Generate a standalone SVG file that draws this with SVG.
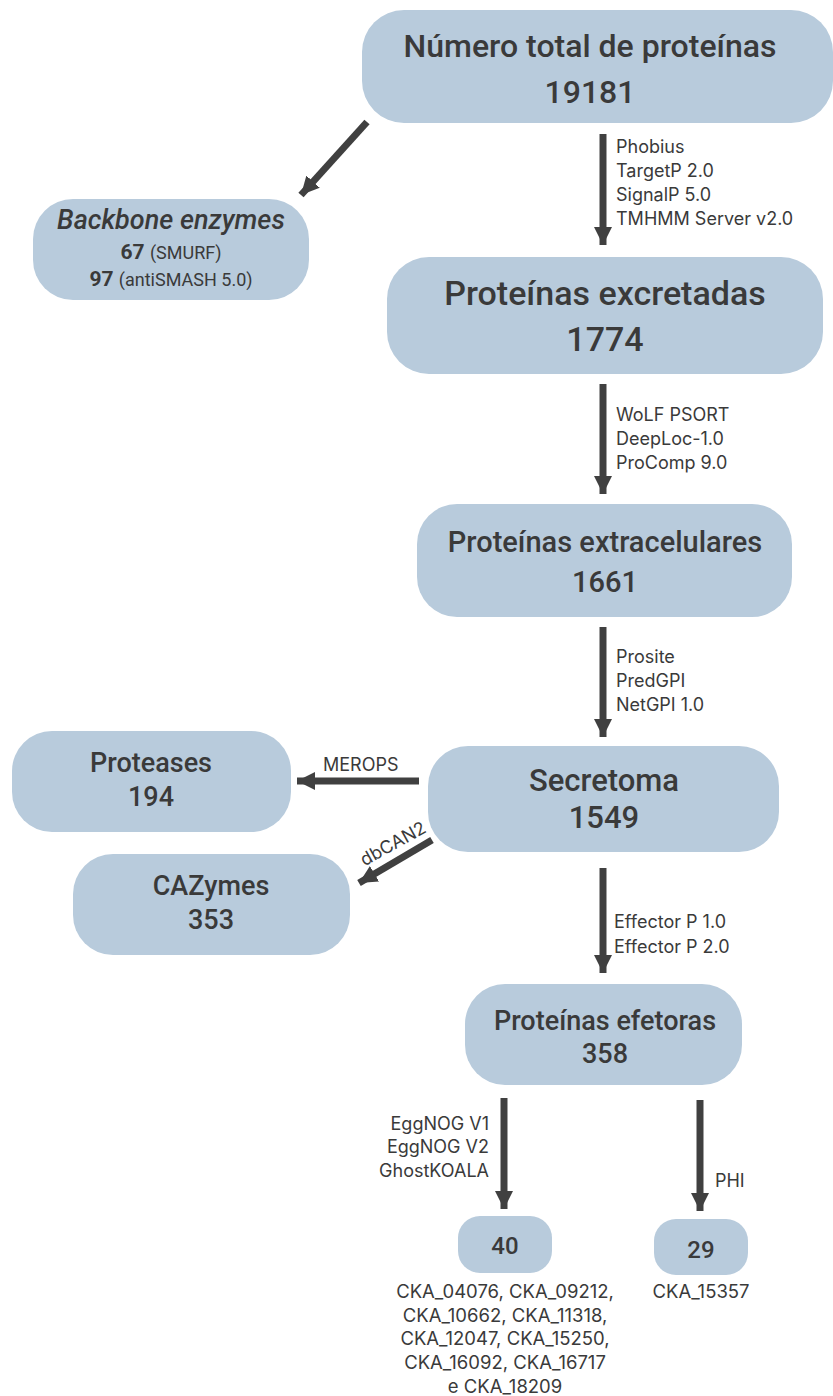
<svg xmlns="http://www.w3.org/2000/svg" width="833" height="1396" viewBox="0 0 833 1396">
<defs>
<style>
.node{fill:#b8cbdc;}
.t{font-family:Roboto,"Liberation Sans",sans-serif;font-weight:500;fill:#3a3a3a;text-anchor:middle;}
.lbl{font-family:Inter,"Open Sans",sans-serif;font-size:18px;fill:#3a3a3a;}
.ck{font-family:Inter,"Open Sans",sans-serif;font-size:18.5px;fill:#3a3a3a;text-anchor:middle;}
.arr{stroke:#404040;stroke-width:7;fill:none;}
</style>
<marker id="ah" markerUnits="userSpaceOnUse" markerWidth="20" markerHeight="20" viewBox="0 0 20 20" refX="18" refY="10" orient="auto">
<path d="M0,1 L18,10 L0,19 Z" fill="#404040"/>
</marker>
</defs>
<rect width="833" height="1396" fill="#ffffff"/>
<g id="connectors">
<line class="arr" x1="367" y1="122" x2="301" y2="195" marker-end="url(#ah)"/>
<line class="arr" x1="603" y1="134" x2="603" y2="245" marker-end="url(#ah)"/>
<line class="arr" x1="603" y1="384" x2="603" y2="494" marker-end="url(#ah)"/>
<line class="arr" x1="603" y1="627" x2="603" y2="737" marker-end="url(#ah)"/>
<line class="arr" x1="419" y1="781" x2="297" y2="781" marker-end="url(#ah)"/>
<line class="arr" x1="432" y1="840" x2="359" y2="883" marker-end="url(#ah)"/>
<line class="arr" x1="603" y1="868" x2="603" y2="973" marker-end="url(#ah)"/>
<line class="arr" x1="504" y1="1098" x2="504" y2="1209" marker-end="url(#ah)"/>
<line class="arr" x1="700" y1="1100" x2="700" y2="1211" marker-end="url(#ah)"/>
<text class="lbl" x="616" y="153">Phobius</text>
<text class="lbl" x="616" y="177">TargetP 2.0</text>
<text class="lbl" x="616" y="201">SignalP 5.0</text>
<text class="lbl" x="616" y="225">TMHMM Server v2.0</text>
<text class="lbl" x="616" y="421">WoLF PSORT</text>
<text class="lbl" x="616" y="445">DeepLoc-1.0</text>
<text class="lbl" x="616" y="469">ProComp 9.0</text>
<text class="lbl" x="616" y="663">Prosite</text>
<text class="lbl" x="616" y="687">PredGPI</text>
<text class="lbl" x="616" y="711">NetGPI 1.0</text>
<text class="lbl" x="323" y="771">MEROPS</text>
<text class="lbl" x="0" y="0" text-anchor="middle" transform="translate(396,849) rotate(-29)">dbCAN2</text>
<text class="lbl" x="614" y="928">Effector P 1.0</text>
<text class="lbl" x="614" y="953">Effector P 2.0</text>
<text class="lbl" x="489" y="1130" text-anchor="end">EggNOG V1</text>
<text class="lbl" x="489" y="1153" text-anchor="end">EggNOG V2</text>
<text class="lbl" x="489" y="1177" text-anchor="end">GhostKOALA</text>
<text class="lbl" x="715" y="1187">PHI</text>
</g>
<g id="n-total">
<rect class="node" x="362" y="10" width="471" height="113" rx="42"/>
<text class="t" x="590" y="57" font-size="32">Número total de proteínas</text>
<text class="t" x="590" y="103" font-size="32">19181</text>
</g>
<g id="n-backbone">
<rect class="node" x="33" y="199" width="276" height="101" rx="40"/>
<text class="t" x="171" y="229" font-size="27" font-style="italic">Backbone enzymes</text>
<text class="t" x="171" y="259" font-size="21"><tspan font-weight="700">67</tspan> <tspan font-weight="400" font-size="18">(SMURF)</tspan></text>
<text class="t" x="171" y="286" font-size="21"><tspan font-weight="700">97</tspan> <tspan font-weight="400" font-size="18">(antiSMASH 5.0)</tspan></text>
</g>
<g id="n-excretadas">
<rect class="node" x="387" y="257" width="436" height="117" rx="42"/>
<text class="t" x="605" y="305" font-size="34">Proteínas excretadas</text>
<text class="t" x="605" y="351" font-size="34">1774</text>
</g>
<g id="n-extracelulares">
<rect class="node" x="417" y="504" width="375" height="113" rx="40"/>
<text class="t" x="605" y="552" font-size="29">Proteínas extracelulares</text>
<text class="t" x="605" y="592" font-size="29">1661</text>
</g>
<g id="n-proteases">
<rect class="node" x="12" y="731" width="279" height="101" rx="40"/>
<text class="t" x="151" y="772" font-size="27">Proteases</text>
<text class="t" x="151" y="806" font-size="27">194</text>
</g>
<g id="n-secretoma">
<rect class="node" x="428" y="746" width="351" height="106" rx="40"/>
<text class="t" x="604" y="791" font-size="31">Secretoma</text>
<text class="t" x="604" y="828" font-size="31">1549</text>
</g>
<g id="n-cazymes">
<rect class="node" x="73" y="854" width="277" height="101" rx="40"/>
<text class="t" x="211" y="895" font-size="27">CAZymes</text>
<text class="t" x="211" y="929" font-size="27">353</text>
</g>
<g id="n-efetoras">
<rect class="node" x="465" y="984" width="277" height="101" rx="40"/>
<text class="t" x="605" y="1030" font-size="27">Proteínas efetoras</text>
<text class="t" x="605" y="1063" font-size="27">358</text>
</g>
<g id="n-40">
<rect class="node" x="458" y="1216" width="94" height="57" rx="22"/>
<text class="t" x="505" y="1254" font-size="24" font-family="Inter,sans-serif" font-weight="600">40</text>
<text class="ck" x="505" y="1298">CKA_04076, CKA_09212,</text>
<text class="ck" x="505" y="1322">CKA_10662, CKA_11318,</text>
<text class="ck" x="505" y="1345">CKA_12047, CKA_15250,</text>
<text class="ck" x="505" y="1369">CKA_16092, CKA_16717</text>
<text class="ck" x="505" y="1393">e CKA_18209</text>
</g>
<g id="n-29">
<rect class="node" x="654" y="1219" width="94" height="56" rx="22"/>
<text class="t" x="701" y="1258" font-size="24" font-family="Inter,sans-serif" font-weight="600">29</text>
<text class="ck" x="701" y="1298">CKA_15357</text>
</g>
</svg>
